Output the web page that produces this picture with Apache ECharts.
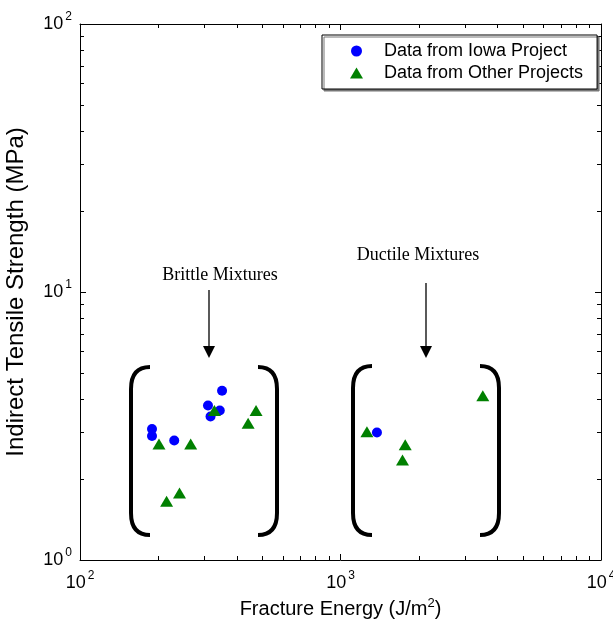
<!DOCTYPE html>
<html>
<head>
<meta charset="utf-8">
<script src="https://cdn.jsdelivr.net/npm/echarts@6/dist/echarts.min.js"></script>
<style>html,body{margin:0;padding:0;background:#fff}#c{width:613px;height:632px}</style>
</head>
<body>
<div id="c"></div>
<script>
// Data (Fracture Energy J/m^2, Indirect Tensile Strength MPa)
const iowaData = [[351,4.28],[310,3.77],[344,3.61],[317,3.43],[189,3.08],[189,2.90],[230,2.79],[1380,2.99]];
const otherData = [[328,3.61],[474,3.61],[442,3.24],[201,2.71],[266,2.71],[241,1.78],[215,1.656],[3518,4.10],[1263,3.01],[1772,2.69],[1730,2.36]];
const seriesNames = ['Data from Iowa Project','Data from Other Projects'];
const xRange = [100, 10000];
const yRange = [1, 100];
const annotationLabels = ['Brittle Mixtures','Ductile Mixtures'];

// minor tick values (log decades x 2..9)
function minorTicks(lo, hi){const out=[];for(let d=lo; d<hi; d*=10){for(let k=2;k<=9;k++)out.push(d*k);}return out;}
const xMinor = minorTicks(xRange[0], xRange[1]).map(v=>[v,yRange[0]]);
const yMinor = minorTicks(yRange[0], yRange[1]).map(v=>[xRange[0],v]);

const chart = echarts.init(document.getElementById('c'), null, {renderer:'canvas'});
const rich = {b:{fontSize:18,fontFamily:'Liberation Sans, Arial',color:'#000'},s:{fontSize:12,fontFamily:'Liberation Sans, Arial',color:'#000',padding:[0,0,14,2]}};
const powFmt = v => '{b|10}{s|' + Math.round(Math.log10(v)) + '}';
const axisBase = {type:'log', logBase:10, axisLine:{show:true,lineStyle:{color:'#000',width:1}}, axisTick:{show:true,inside:true,length:6,lineStyle:{color:'#000'}}, splitLine:{show:false}, minorTick:{show:false}, minorSplitLine:{show:false}};

function tickRenderX(params, api){
  const cs = params.coordSys;
  const p = api.coord([api.value(0), api.value(1)]);
  const x = Math.round(p[0])+0.5;
  const st = {stroke:'#000', lineWidth:1};
  return {type:'group', children:[
    {type:'line', shape:{x1:x,y1:cs.y+cs.height,x2:x,y2:cs.y+cs.height-4}, style:st},
    {type:'line', shape:{x1:x,y1:cs.y,x2:x,y2:cs.y+4}, style:st}
  ]};
}
function tickRenderY(params, api){
  const cs = params.coordSys;
  const p = api.coord([api.value(0), api.value(1)]);
  const y = Math.round(p[1])+0.5;
  const st = {stroke:'#000', lineWidth:1};
  return {type:'group', children:[
    {type:'line', shape:{x1:cs.x,y1:y,x2:cs.x+4,y2:y}, style:st},
    {type:'line', shape:{x1:cs.x+cs.width,y1:y,x2:cs.x+cs.width-4,y2:y}, style:st}
  ]};
}

function bracket(x0, xv, y0, y1){
  const r = 22;
  const st = {stroke:'#000', lineWidth:4, fill:null, lineCap:'butt'};
  return {type:'group', children:[
    {type:'bezierCurve', shape:{x1:x0,y1:y0,cpx1:xv,cpy1:y0,x2:xv,y2:y0+r}, style:st},
    {type:'line', shape:{x1:xv,y1:y0+r,x2:xv,y2:y1-r}, style:st},
    {type:'bezierCurve', shape:{x1:xv,y1:y1-r,cpx1:xv,cpy1:y1,x2:x0,y2:y1}, style:st}
  ]};
}
function arrow(x, y0, y1){
  return [
    {type:'line', shape:{x1:x,y1:y0,x2:x,y2:y1-11}, style:{stroke:'#000',lineWidth:1.3}},
    {type:'polygon', shape:{points:[[x-6,y1-12],[x+6,y1-12],[x,y1]]}, style:{fill:'#000'}}
  ];
}

const option = {
  animation:false,
  backgroundColor:'#fff',
  grid:{left:80, right:12, top:24, bottom:72, containLabel:false, outerBoundsMode:'none'},
  legend:{
    orient:'vertical', left:322, top:35,
    data:[{name:seriesNames[0], icon:'circle'},{name:seriesNames[1], icon:'triangle'}],
    itemWidth:13, itemHeight:11, itemGap:4,
    padding:[7,14,7,28],
    borderColor:'#000', borderWidth:1, backgroundColor:'#fff',
    shadowColor:'#777', shadowOffsetX:2, shadowOffsetY:2, shadowBlur:0,
    textStyle:{fontSize:18, fontFamily:'Liberation Sans, Arial', color:'#000', lineHeight:18, padding:[0,0,0,16]},
    selectedMode:false
  },
  xAxis:[
    Object.assign({}, axisBase, {min:xRange[0], max:xRange[1], position:'bottom',
      name:'Fracture Energy (J/m{s|2})', nameLocation:'middle', nameGap:36,
      nameTextStyle:{fontSize:20, fontFamily:'Liberation Sans, Arial', color:'#000', rich:{s:{fontSize:13,fontFamily:'Liberation Sans, Arial',color:'#000',padding:[0,0,12,0]}}},
      axisLabel:{formatter:powFmt, rich:rich, margin:10, showMinLabel:true, showMaxLabel:true}}),
    Object.assign({}, axisBase, {min:xRange[0], max:xRange[1], position:'top', axisLabel:{show:false}})
  ],
  yAxis:[
    Object.assign({}, axisBase, {min:yRange[0], max:yRange[1], position:'left',
      name:'Indirect Tensile Strength (MPa)', nameLocation:'middle', nameGap:52, nameRotate:90,
      nameTextStyle:{fontSize:24, fontFamily:'Liberation Sans, Arial', color:'#000'},
      axisLabel:{formatter:powFmt, rich:rich, margin:8, showMinLabel:true, showMaxLabel:true}}),
    Object.assign({}, axisBase, {min:yRange[0], max:yRange[1], position:'right', axisLabel:{show:false}})
  ],
  series:[
    {name:'xminor', type:'custom', data:xMinor, renderItem:tickRenderX, silent:true, clip:false, xAxisIndex:0, yAxisIndex:0},
    {name:'yminor', type:'custom', data:yMinor, renderItem:tickRenderY, silent:true, clip:false, xAxisIndex:0, yAxisIndex:0},
    {name:seriesNames[1], type:'scatter', data:otherData, symbol:'triangle', symbolSize:[13,11], itemStyle:{color:'#008000', opacity:1}, z:3},
    {name:seriesNames[0], type:'scatter', data:iowaData, symbol:'circle', symbolSize:10, itemStyle:{color:'#0000ff', opacity:1}, z:2}
  ],
  graphic:[
    bracket(150,131,367,535), bracket(258,277,367,535),
    bracket(372,353,366,535), bracket(480,499,366,535),
    ...arrow(209,290,358), ...arrow(426,283,358),
    {type:'text', x:220, y:275, style:{text:annotationLabels[0], font:'18px "Liberation Serif", "Times New Roman", serif', fill:'#000', align:'center', verticalAlign:'middle'}},
    {type:'text', x:418, y:255, style:{text:annotationLabels[1], font:'18px "Liberation Serif", "Times New Roman", serif', fill:'#000', align:'center', verticalAlign:'middle'}}
  ]
};
chart.setOption(option);
</script>
</body>
</html>
